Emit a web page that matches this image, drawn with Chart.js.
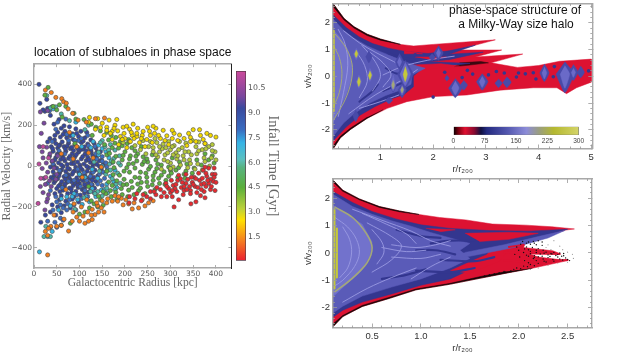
<!DOCTYPE html>
<html><head><meta charset="utf-8">
<script src="https://cdn.jsdelivr.net/npm/chart.js@4"></script>
<style>
html,body{margin:0;padding:0;background:#fff;width:628px;height:354px;overflow:hidden}
canvas{position:absolute;filter:blur(.35px)}
</style></head><body>
<canvas id="cLeft" width="236" height="260" style="left:0;top:40px"></canvas>
<canvas id="cBar" width="70" height="210" style="left:230px;top:60px"></canvas>
<canvas id="cTop" width="328" height="175" style="left:300px;top:0"></canvas>
<canvas id="cBot" width="328" height="179" style="left:300px;top:175px"></canvas>
<canvas id="cDens" width="150" height="30" style="left:440px;top:122px"></canvas>
<script>
/* ---------- subhalo scatter: flat lists radius,velocity, one per infall-time colour ---------- */
const subNavy=[11,400,13,307,28,326,24,268,30,282,20,275,36,248,55,228,44,205,60,185,78,192,66,197,92,182,52,165,68,170,85,158,103,170,116,165,
35,135,45,128,58,142,72,138,86,130,98,145,112,138,125,128,30,118,48,110,62,118,76,112,90,105,104,115,118,108,132,112,
38,95,52,88,66,95,80,85,95,92,108,82,122,90,136,88,146,70,42,72,56,65,70,72,84,60,98,68,112,58,126,66,140,52,
34,48,48,42,62,50,76,38,90,45,104,35,118,44,132,32,148,28,40,22,54,16,68,25,82,12,96,20,110,10,124,18,138,8,152,6,
36,-5,50,-10,64,-2,78,-15,92,-6,106,-18,120,-8,134,-20,148,-14,42,-28,56,-35,70,-26,84,-40,98,-30,112,-44,126,-34,140,-48,
38,-55,52,-62,66,-52,80,-68,94,-58,108,-72,122,-60,136,-75,44,-82,58,-90,72,-80,86,-96,100,-86,114,-100,128,-92,
50,-110,64,-118,78,-108,92,-124,106,-115,120,-128,46,-135,60,-145,74,-135,88,-150,102,-142,56,-165,70,-172,84,-162,98,-176,
40,-190,52,-200,66,-195,80,-205,36,-225,48,-240,60,-228,25,-240,15,-275,
46,150,64,155,80,148,94,160,108,122,57,104,73,98,87,76,101,78,115,74,129,50,59,33,73,8,87,28,101,5,115,27,129,-3,143,25,45,-45,61,-18,75,-42,89,-23,103,-48,117,-25,131,-55,
47,-72,61,-76,77,-55,91,-84,105,-64,119,-82,133,-108,67,-100,83,-130,97,-105,111,-132,57,-125,125,-112,
41,85,55,100,69,84,83,92,97,84,111,94,125,78,139,70,51,58,65,38,79,48,93,56,107,46,121,32,135,40,46,30,60,6,74,-10,88,10,102,-8,116,-2,130,12,144,-2,
44,2,58,-24,72,-48,86,-30,100,-40,114,-56,128,-70,55,-48,69,-64,83,-78,97,-72,111,-90,42,-62,54,-98,68,-88,82,-112,96,-94,110,-112];
const subBlue=[40,290,34,270,52,215,70,230,48,180,72,155,98,125,118,150,134,96,150,46,158,16,152,-30,146,-72,150,-95,132,-130,118,-150,104,-160,88,-190,72,-215,58,-255,46,-275,36,-300,
40,120,55,75,68,60,82,32,96,-15,110,-32,124,-50,140,-88,155,-60,160,-5,76,-75,62,-105,48,-150,36,-120,30,-85,42,10,56,-22,70,-45,88,-70,102,-100,116,-70,130,-30,
58,-190,74,-185,92,-215,42,-215,30,-270,50,-300,64,-265,
138,34,144,-40,126,-90,112,-120,94,-140,78,-165,64,-205,50,-175,150,24,136,60,120,100,104,135,90,125,76,125];
const subCyan=[42,280,12,-420,92,215,86,150,105,95,130,120,142,102,158,70,165,40,172,18,178,-20,168,-50,160,-88,148,-118,136,-150,122,-175,106,-188,88,-135,72,-150,60,-160,54,-215,40,-320,30,-345,142,55,128,-16,112,-55,100,-40,155,-115,175,-75,182,-105,150,0,
96,-165,80,-195,114,-150,128,-110,150,85,125,90,162,-20,140,-60,84,-150];
const subTeal=[28,345,48,290,36,285,60,255,78,222,120,200,112,178,150,125,168,105,178,78,188,50,176,38,166,10,190,5,184,-35,172,-62,190,-85,178,-115,162,-132,150,-146,140,-125,124,-125,110,-155,90,-212,26,-295,36,-345,22,-345,164,78,142,68,132,20,158,-40,144,-25,
168,-20,180,-88,160,-108,170,25,186,15,146,115,134,-135,156,95];
const subGreen=[31,385,24,347,42,292,56,300,50,275,62,240,88,258,110,228,126,205,136,190,92,230,146,172,160,165,170,150,180,140,190,120,205,110,215,90,228,60,240,45,250,20,268,30,280,5,296,-5,312,-20,330,-40,348,-35,
155,105,172,90,186,88,200,70,212,50,226,25,238,8,252,-15,266,-30,280,-45,296,-50,160,55,174,20,194,30,208,10,222,-10,234,-30,248,-55,262,-70,276,-85,288,-90,
160,-25,172,-95,188,-45,198,-65,210,-30,222,-55,236,-80,250,-100,266,-115,192,-110,204,-90,216,-105,230,-120,244,-135,158,-135,170,-150,182,-165,146,-165,132,-185,122,-205,112,-225,100,-235,80,-280,60,-290,152,-192,168,-120,140,-200,
304,40,320,20,336,10,352,-10,368,5,384,30,396,15,392,50,376,60,358,30,300,-22,316,-55,332,-60,176,-8,198,-25,214,-75,228,-88,128,150,70,292,90,110,120,-100,166,62,
164,128,178,112,194,100,208,130,222,75,236,95,248,35,260,55,272,10,286,-28,302,-35,318,-8,334,-25,196,52,210,35,224,48,242,22,256,-2,270,-12,180,48,164,-78,182,-72,196,-92,208,-118,220,-140,234,-108,248,-78,260,-92,274,-60,290,-70,180,-128,194,-140,206,-150,142,-148,126,-170,152,-125,174,-42,204,-8,218,12,232,-58,246,-35,262,-48];
const subOlive=[262,90,276,70,288,55,300,80,312,65,326,90,340,70,356,95,370,80,384,95,398,70,272,45,286,30,300,15,314,35,328,50,342,30,358,60,374,40,390,40,400,30,
256,120,270,115,284,108,296,120,308,100,320,120,334,112,348,125,362,118,376,110,392,105,306,-5,322,5,338,-8,354,-15,370,-20,386,0,280,-15,294,22,234,80,246,60,210,120,222,100,
268,55,282,85,294,65,306,55,318,80,332,70,346,55,362,75,378,85,392,75,262,70,276,95,290,90,304,95,316,50,330,30,344,12,360,10,376,22,300,-12,240,125,252,95,196,115,266,135];
const subYellow=[122,238,140,232,150,210,165,225,182,228,120,215,135,180,160,190,172,170,178,200,196,190,210,180,218,205,200,135,212,120,226,145,240,170,248,130,256,150,268,185,284,175,265,160,292,148,308,160,320,152,344,140,350,178,364,178,356,120,372,130,388,150,400,142,376,110,232,115,244,95,278,135,296,105,316,125,336,100,204,90,216,150,190,145,186,105,172,130,154,150,228,185,250,190,262,195,
146,188,168,160,184,172,198,160,214,165,226,160,238,150,254,170,274,150,288,125,304,135,330,135,344,120,366,150,204,195,220,135,194,130,160,175,176,185,260,115,236,135,340,160,380,160,304,175];
const subOrange=[25,372,38,360,48,336,61,330,65,315,71,308,75,280,85,258,97,225,115,215,135,232,155,235,30,-435,
25,-320,30,-340,37,-295,50,-295,60,-290,66,-260,76,-318,84,-270,94,-250,108,-245,112,-280,120,-270,128,-262,134,-238,142,-225,154,-225,118,-225,128,-212,140,-195,150,-170,160,-180,172,-172,184,-172,196,-190,208,-185,216,-210,230,-205,244,-195,252,-180,262,-170,178,-145,192,-158,104,-200,88,-185,70,-115,60,60,44,-240,130,40,148,-5,116,-165,78,165,94,95,32,-305,
138,-180,148,-205,162,-160,126,-240,100,-270,186,-150,202,-165,220,-180,238,-165,86,-225,106,-55,86,35,120,65];
const subRed=[209,-180,222,-160,236,-170,256,-160,268,-140,280,-150,292,-150,304,-150,308,-200,318,-165,328,-140,345,-185,356,-175,366,-145,376,-155,388,-115,398,-120,
286,-130,296,-110,306,-95,314,-125,324,-105,334,-85,344,-120,354,-100,364,-70,374,-125,384,-85,394,-75,290,-85,302,-70,316,-70,326,-80,338,-65,348,-80,360,-105,370,-60,380,-50,392,-40,400,-80,
384,-10,396,-10,372,-20,352,-55,342,-100,300,-130,312,-90,330,-120,358,-130,378,-100,398,-40,388,-65,368,-90,270,-105,256,-125,240,-140,226,-135,210,-150,
318,-45,334,-40,362,-35,376,-5,346,-55,390,-100,
278,-115,292,-100,322,-62,336,-115,350,-90,368,-115,382,-70,396,-55,310,-110,356,-62,378,-35,264,-125,248,-150,344,-135,304,-120,374,-85,330,-100];
const subPurple=[14,265,30,272,22,210,16,160,12,95,28,92,18,70,35,60,20,40,27,15,40,25,18,-12,30,-30,44,-10,22,-60,34,-72,48,-65,25,-90,38,-100,14,-100,20,-130,32,-140,28,-175,24,-215,30,-160,50,-40,52,50];
const subPink=[11,10,9,-183,20,95,26,-55,15,-60,32,40];

const subGroups=[subNavy,subBlue,subPurple,subPink,subCyan,subTeal,subGreen,subOlive,subYellow,subOrange,subRed];
const subColors=['#37479e','#3f6cc0','#7a48a0','#c04a9c','#38b4e0','#4fb8a8','#5cb040','#b4c83a','#f2d800','#f28020','#e62a30'];

/* ---------- colour bars ---------- */
const infallStops=[0.05,1.3,2.5,3.2,4.5,5.7,6.2,7.2,8,9.3,10,11.55];
const infallColors=['#ea1f30','#f58220','#ffe000','#bcd13a','#5aaf3c','#58b380','#5cc0c0','#36b4e6','#3a6cc0','#3a4a9e','#7a479e','#cc4a9c'];
const infallTicks=[1.5,3,4.5,6,7.5,9,10.5];
const densStops=[0,12,28,50,66,80,130,175,205,240,300];
const densColors=['#000000','#7a0010','#e01030','#8a0a30','#101040','#232a80','#5458b0','#8c8cd8','#9a9e80','#b4b830','#d4d468'];
const densTicks=[0,75,150,225,300];

/* ---------- tick values ---------- */
const leftXTicks=[0,50,100,150,200,250,300,350,400];
const leftYTicks=[-400,-200,0,200,400];
const leftYLabels=['\u2212400','\u2212200','0','200','400'];
const topXTicks=[1,2,3,4,5];
const topXMinor=[.2,.4,.6,.8,1.2,1.4,1.6,1.8,2.2,2.4,2.6,2.8,3.2,3.4,3.6,3.8,4.2,4.4,4.6,4.8];
const botXTicks=[.5,1,1.5,2,2.5];
const botXMinor=[.1,.2,.3,.4,.6,.7,.8,.9,1.1,1.2,1.3,1.4,1.6,1.7,1.8,1.9,2.1,2.2,2.3,2.4,2.6,2.7];
const vTicks=[-2,-1,0,1,2];
const vMinor=[-2.6,-2.4,-2.2,-1.8,-1.6,-1.4,-1.2,-.8,-.6,-.4,-.2,.2,.4,.6,.8,1.2,1.4,1.6,1.8,2.2,2.4,2.6];

/* ---------- top phase-space panel, outlines in r/r200, v/v200 ---------- */
const topRed=[.1,2.72,.31,2.16,.5,1.85,.75,1.57,1,1.39,1.38,1.19,1.63,1.13,2,1.19,3.18,1.36,2.45,.98,3.3,.98,2.8,.72,3.7,.83,3.1,.5,3.6,.33,4,.4,4.4,.56,5,.64,5,-.22,4.72,-.43,4.53,-.65,4.35,-.43,3.9,-.43,3.27,-.52,2.64,-.7,2.01,-.76,1.5,-.95,1.13,-1.2,.75,-1.57,.43,-1.99,.24,-2.3,.1,-2.72];
const topBlackUp=[.1,2.72,.31,2.16,.5,1.85,.75,1.57,1,1.39,1.38,1.19,1,1.35,.75,1.52,.5,1.8,.31,2.1,.1,2.62];
const topBlackLow=[1.05,-1.25,.75,-1.57,.43,-1.99,.24,-2.3,.1,-2.72,.1,-2.62,.24,-2.24,.43,-1.94,.75,-1.53];
const topBlackMid=[2.5,.5,2.9,.55,3.05,.5,2.7,.42,2.4,.36];
const topNavy=[.1,2.3,.35,1.82,.6,1.47,.85,1.22,1.15,1.05,1.5,.92,1.9,.85,2.3,.95,2.8,1.16,2.3,.82,2.95,.9,2.3,.62,1.9,.55,2.7,.48,1.8,.3,1.62,0,1.62,-.4,1.45,-.68,1.2,-.85,.9,-1.13,.62,-1.45,.35,-1.9,.1,-2.42];
const topPeri=[.1,2.15,.3,1.72,.5,1.42,.75,1.13,1,.92,1.25,.72,1.45,.55,1.7,.38,1.85,.3,1.6,.05,1.58,-.3,1.4,-.5,1.1,-.72,.8,-1,.5,-1.4,.3,-1.75,.1,-2.25];
const topPeriIn=[.1,1.75,.25,1.42,.38,1,.47,.4,.45,-.1,.35,-.7,.22,-1.2,.1,-1.75];
const topRedPatchA=[1.65,.72,2.25,.72,1.95,.62];
const topRedPatchB=[1.62,.42,2.15,.47,2.5,.38,2.05,.3,1.72,.2];
const topRedPatchC=[1.45,.95,1.8,.84,1.45,.84];
const topCaustics=[[.12,1.62,.3,1.2,.43,.7,.47,.2,.42,-.4,.3,-1,.12,-1.6],[.12,1.1,.22,.7,.27,.1,.22,-.6,.12,-1.1]];
const topYellow=[[.115,1.7,.115,-1.3]];
const topStreaks=[[.3,1.7,.6,1.25,.9,.9,1.25,.55,1.55,.2],[1.05,.05,1.4,.35,1.9,.6,2.4,.75],[.4,-1.4,.9,-.7,1.4,-.15,1.7,.25],[.6,-1.2,1,-.95,1.35,-.7],[.55,.9,.7,.4,.75,-.2,.6,-.8],[.8,.9,1.05,.5,1.2,.05,1.05,-.4],[.2,1.75,.33,1.2,.38,.4,.3,-.6,.2,-1.5],[.65,1.15,.9,.55,1,0,.85,-.55]];
const topDarkStreaks=[[1.15,.85,1.4,.7,1.65,.6],[1.1,.3,1.3,.1,1.5,.1],[1.05,-.55,1.3,-.35,1.55,-.1],[.6,-.95,.85,-.55,.95,-.3]];
/* subhalo spindles: r, v top, v middle, v bottom, half-width in r */
const topSpindleNavy=[[2.42,-.08,-.44,-.8,.13],[2.58,-.15,-.33,-.52,.07],[2.93,.1,-.2,-.52,.11],[3.24,-.1,-.25,-.42,.07],[3.4,-.02,-.22,-.42,.08],[4.11,.46,.13,-.2,.09],[4.5,.54,.08,-.62,.17],[4.66,.44,.15,-.16,.09],[4.8,.38,.15,-.06,.07],[2.1,1.14,.88,.6,.09],[1.98,.85,.72,.58,.06],[1.47,.6,.08,-.44,.15],[1.36,.85,.54,.25,.08],[.78,.95,.74,.5,.06],[.53,-1.25,-1.47,-1.7,.055],[1.24,-.03,-.32,-.6,.06],[1.41,-.25,-.5,-.8,.08],[1.16,-.78,-.9,-1.03,.07],[2.26,.04,-.07,-.18,.04]];
const topSpindlePeri=[[2.42,-.18,-.44,-.7,.07],[2.93,0,-.2,-.42,.055],[4.11,.34,.13,-.1,.045],[4.5,.4,.08,-.45,.09],[4.66,.3,.15,-.04,.04],[2.1,1.04,.88,.7,.04],[1.47,.52,.08,-.36,.1],[1.36,.72,.54,.36,.04],[1.41,-.34,-.5,-.7,.04],[.54,1.05,.84,.62,.05],[.59,.05,-.2,-.45,.05],[.8,.3,.05,-.2,.05],[1.24,.05,-.32,-.55,.05]];
const topSpindleYellow=[[.54,.98,.84,.7,.03],[.59,-.03,-.2,-.38,.03],[.8,.2,.05,-.12,.03],[1.47,.36,.08,-.2,.04]];
const topSpindleOlive=[[1.24,-.15,-.32,-.48,.028],[1.41,-.38,-.5,-.62,.025]];
const topNavyDots=[3.35,.12,3.2,.18,3.9,.13,4.3,.36,4.95,.2,2,-.78,1.66,.8,2.55,-.05,3.75,.09,3.58,-.03,2.75,.08,3.05,.05,3.62,.12,4.28,-.02,2.22,.15,2.65,.22,3.95,-.1];

/* ---------- bottom phase-space panel ---------- */
const botRed=[.1,2.67,.2,2.3,.37,1.98,.575,1.7,.78,1.54,.98,1.41,1.19,1.3,1.46,1.21,1.73,1.06,2.07,1.02,2.34,.96,2.57,.88,2.48,.84,2.2,.52,2.07,.38,2.05,.2,2.35,.08,2.42,-.02,2.1,-.02,2.2,-.15,2.5,-.28,2.14,-.56,1.87,-.74,1.6,-.93,1.29,-1.15,.95,-1.35,.68,-1.66,.4,-1.96,.2,-2.33,.1,-2.7];
const botBlackUp=[.1,2.67,.2,2.3,.37,1.98,.575,1.7,.78,1.54,.98,1.41,.78,1.51,.575,1.67,.37,1.95,.2,2.26,.1,2.6];
const botBlackLow=[2.14,-.56,1.87,-.74,1.6,-.93,1.29,-1.15,.95,-1.35,.68,-1.66,.4,-1.96,.2,-2.33,.1,-2.7,.1,-2.6,.2,-2.29,.4,-1.92,.68,-1.62,.95,-1.32,1.29,-1.12,1.6,-.87,1.87,-.68];
const botNavy=[.1,2.25,.3,1.85,.5,1.52,.75,1.24,1,1.03,1.3,.9,1.7,.82,2.1,.8,2.5,.87,2.2,.55,1.9,.3,1.7,.1,1.6,-.45,1.3,-.95,1,-1.18,.7,-1.5,.4,-1.8,.2,-2.1,.1,-2.35];
const botPeri=[.1,2.15,.3,1.7,.5,1.42,.7,1.18,.9,.98,1.1,.75,1.3,.55,1.5,.35,1.4,.1,1.5,-.2,1.3,-.55,1,-.95,.7,-1.25,.4,-1.58,.2,-1.95,.1,-2.2];
const botPeriIn=[.1,1.75,.25,1.4,.4,1.05,.5,.4,.48,-.1,.38,-.7,.22,-1.2,.1,-1.6];
const botLightTip=[1.05,-.3,1.5,-.12,1.95,.2,2.3,.55,2.47,.82,2.2,.6,1.85,.3,1.45,.02];
const botRedPatchA=[1.45,.72,1.9,.76,2.2,.72,1.9,.5,1.6,.42];
const botRedPatchB=[1.3,-.65,1.55,-.25,1.75,.05,1.9,.1,1.8,-.3,1.5,-.75];
const botRedPatchC=[1.05,.9,1.35,.85,1.2,.78];
const botCaustics=[[.12,1.68,.3,1.3,.44,.72,.5,.2,.45,-.35,.3,-.92,.12,-1.42]];
const botYellow=[[.115,1.6,.115,-1.3],[.14,.9,.14,-.9]];
const botStreaks=[[.12,1.3,.25,.95,.34,.5,.37,0,.32,-.5,.2,-1,.12,-1.2],[.2,.95,.27,.5,.29,0,.25,-.55,.17,-.9],[.45,1.1,.7,.6,.8,.25,.7,-.25,.5,-.7],[.3,1.6,.6,1.2,.9,.8,1.1,.45,1.3,.25],[.9,-.95,1.1,-.5,1.3,-.15],[.5,.85,.6,.4,.62,0,.55,-.4],[.7,.3,.95,.2,1.15,.3,1.3,.45],[.7,-.15,1,-.2,1.2,-.05],[.2,-1.8,.45,-1.3,.7,-.9,.95,-.55],[.4,1.45,.65,1.05,.85,.7,.95,.35],[.6,.2,.85,.05,1.05,.1]];
const botNavyStreaks=[[1.1,.35,1.3,.45,1.55,.45],[.95,.1,1.15,.1,1.35,-.05],[1.2,-.25,1.55,-.3,1.75,-.15],[.95,-.65,1.3,-.7,1.55,-.55],[.75,.85,1,.62,1.2,.55],[.6,-.95,.85,-.8,1.05,-.6]];
const botRedStreaks=[[1.85,.02,2.15,-.02,2.42,-.04],[1.85,-.28,2.15,-.32,2.5,-.26],[1.9,.22,2.05,.3]];
const botBlackDots=[2.1,.4,2.15,.42,2.2,.45,2.24,.4,2.12,.32,2.18,.3,2.24,.28,2.08,.22,2.14,.2,2.2,.16,2.1,.12,2.18,.1,2.28,.03,2.36,.02,2.42,.0,2.46,-.02,2.05,.02,2.12,-.03,2.22,-.04,2.3,-.07,2.38,-.09,2.46,-.1,2.1,-.12,2.2,-.14,2.3,-.17,2.4,-.15,2.48,-.18,2.15,-.2,2.25,-.22,2.35,-.24,2.45,-.26,2.52,-.28,2.12,-.42,2.2,-.38,2.28,-.33,2.05,-.48,1.95,-.6,1.85,-.68,1.75,-.76,2.02,-.58,2.09,-.5,2.16,-.47,1.98,.22,2.02,.32,2.0,.1,1.96,-.05,2.01,-.15,2.06,-.28,2.16,-.1,2.25,.1,2.33,-.02,2.44,-.12,
2.04,.42,2.08,.36,2.16,.36,2.06,.15,2.12,.06,2.18,.02,2.26,-.01,2.34,-.04,2.4,-.06,2.08,-.08,2.16,-.17,2.24,-.12,2.32,-.13,2.42,-.22,2.5,-.24,2.18,-.28,2.26,-.3,2.36,-.3,2.1,-.36,1.92,-.65,1.8,-.72,1.7,-.8,1.65,-.84,1.98,-.55];
const botGreyDots=[2.3,.3,2.36,.45,2.42,.25,2.33,.12,2.45,.12,2.5,.03,2.55,-.05,2.56,-.2,2.4,-.36,2.3,-.45,2.2,-.55,2.12,-.6,2.5,-.34,2.28,.2,2.22,.52,2.2,.62];

/* ---------- helpers that hand the lists to the library ---------- */
const xy=f=>{const o=[];for(let i=0;i<f.length;i+=2)o.push({x:f[i],y:f[i+1]});return o};
const poly=(f,c)=>({showLine:true,data:xy(f),fill:'shape',backgroundColor:c,borderColor:c,borderWidth:.5,pointRadius:0,tension:0});
const curve=(f,c,w,t=.35)=>({showLine:true,data:xy(f),fill:false,borderColor:c,borderWidth:w,pointRadius:0,tension:t,borderCapStyle:'round'});
const spindles=(list,c)=>list.map(s=>({...poly([s[0],s[1],s[0]+s[4],s[2],s[0],s[3],s[0]-s[4],s[2]],c),tension:.15}));
const dots=(f,c,r)=>({showLine:false,data:xy(f),pointRadius:r,pointBorderWidth:0,pointBackgroundColor:c});
const gray='#a8a8a8';
function axis(axisName,pos,min,max,ticks,len,opt={}){
  const isMain=!!opt.labels;
  return {axis:axisName,position:pos,type:'linear',min,max,display:true,weight:isMain?10:0,
    afterBuildTicks:s=>{s.ticks=ticks.map(v=>({value:v}))},
    afterFit:s=>{if(axisName==='x')s.height=opt.size||0;else s.width=opt.size||0;s.paddingLeft=s.paddingRight=s.paddingTop=s.paddingBottom=0},
    border:{display:true,color:opt.border||gray,width:opt.bw===undefined?1.4:opt.bw,z:1},
    grid:{drawOnChartArea:false,drawTicks:true,tickLength:-len,tickColor:opt.tick||'#999',tickWidth:.8,z:1},
    ticks:{display:isMain,autoSkip:false,maxRotation:0,minRotation:0,padding:len+(opt.gap||3),color:opt.color||'#444',font:opt.font,
      callback:opt.labels?(v=>opt.labels(v)):undefined},
    title:opt.title||{display:false}};
}
const base={responsive:false,animation:false,events:[],devicePixelRatio:1,plugins:{legend:{display:false},tooltip:{enabled:false}}};
function gradient(chart,axisId,stops,colors,horizontal){
  const s=chart.scales[axisId];if(!s)return colors[0];
  const a=s.getPixelForValue(stops[0]),b=s.getPixelForValue(stops[stops.length-1]);
  if(!isFinite(a)||!isFinite(b))return colors[0];
  const g=horizontal?chart.ctx.createLinearGradient(a,0,b,0):chart.ctx.createLinearGradient(0,a,0,b);
  stops.forEach((v,i)=>g.addColorStop((v-stops[0])/(stops[stops.length-1]-stops[0]),colors[i]));
  return g;
}

/* ---------- left scatter ---------- */
const serif='"Liberation Serif","DejaVu Serif",serif';
new Chart(document.getElementById('cLeft'),{type:'scatter',
  data:{datasets:subGroups.map((g,i)=>({data:xy(g),pointRadius:2.1,pointBorderWidth:.6,pointBorderColor:'#4a4a4a',pointBackgroundColor:subColors[i]})).reverse()},
  options:{...base,layout:{padding:{right:3}},
    plugins:{...base.plugins,title:{display:true,fullSize:false,text:'location of subhaloes in phase space',color:'#111',font:{family:'"Liberation Sans",Arial,sans-serif',size:12.2,weight:'normal',lineHeight:1.24},padding:{top:5,bottom:4}}},
    scales:{
      x:axis('x','bottom',0,434,leftXTicks,3,{size:32,labels:v=>String(v),gap:1.5,font:{family:'"DejaVu Sans"',size:7.5},color:'#555',title:{display:true,text:'Galactocentric Radius [kpc]',color:'#666',font:{family:serif,size:11.6},padding:{top:0,bottom:10}}}),
      y:axis('y','left',-499,499,leftYTicks,3,{size:34,labels:v=>leftYLabels[leftYTicks.indexOf(v)],gap:2,font:{family:'"DejaVu Sans"',size:7.5},color:'#555',title:{display:true,text:'Radial Velocity [km/s]',color:'#666',font:{family:serif,size:12},padding:{top:0,bottom:0}}}),
      x2:axis('x','top',0,434,leftXTicks,3),
      y2:axis('y','right',-499,499,leftYTicks,3,{border:'#222',bw:1})
    }}});

/* ---------- infall-time colour bar ---------- */
new Chart(document.getElementById('cBar'),{type:'bar',
  data:{labels:['t'],datasets:[{data:[[infallStops[0],infallStops[infallStops.length-1]]],barPercentage:1,categoryPercentage:1,borderSkipped:false,borderWidth:1,borderColor:'#5a3a4a',
    backgroundColor:c=>gradient(c.chart,'y',infallStops,infallColors,false)}]},
  options:{...base,layout:{padding:{left:6,top:11,bottom:9.3}},
    scales:{x:{display:false},
      y:{position:'right',min:.05,max:11.55,afterBuildTicks:s=>{s.ticks=infallTicks.map(v=>({value:v}))},afterFit:s=>{s.width=54;s.paddingTop=s.paddingBottom=0},
        border:{display:false},grid:{drawOnChartArea:false,drawTicks:false},
        ticks:{autoSkip:false,padding:2,color:'#555',font:{family:'"DejaVu Sans"',size:7.8},callback:v=>v.toFixed(1)},
        title:{display:true,text:'Infall Time [Gyr]',color:'#666',font:{family:serif,size:14.5},padding:{top:18,bottom:0}}}}}});

/* ---------- phase-space panels ---------- */
const panelFont={family:'"Liberation Sans",Arial,sans-serif',size:9.5};
const overlayText={id:'overlayText',afterDraw(c){const t=c.options.plugins.overlayText;if(!t)return;const x=c.ctx;x.save();x.fillStyle='#111';x.font='12px "Liberation Sans",Arial,sans-serif';x.textAlign='center';x.textBaseline='middle';t.lines.forEach(l=>x.fillText(l.text,l.x,l.y));x.restore()}};
function panelScales(xMax,xT,xM,xLab,yMin,yMax){
  const ti=(txt,pad)=>({display:true,text:txt,color:'#333',font:{family:panelFont.family,size:9.5},padding:pad});
  return {
    x:axis('x','bottom',.1,xMax,xT,4,{size:26.5,labels:xLab,gap:3,font:panelFont,color:'#333',title:ti('r/r\u2082\u2080\u2080',{top:0,bottom:0})}),
    y:axis('y','left',yMin,yMax,vTicks,4,{size:33,labels:v=>String(v),gap:3,font:panelFont,color:'#333',title:ti('v/v\u2082\u2080\u2080',{top:3,bottom:0})}),
    x2:axis('x','top',.1,xMax,xT,4),
    y2:axis('y','right',yMin,yMax,vTicks,4),
    x3:axis('x','bottom',.1,xMax,xM,2,{bw:0}),
    x4:axis('x','top',.1,xMax,xM,2,{bw:0}),
    y3:axis('y','left',yMin,yMax,vMinor,2,{bw:0}),
    y4:axis('y','right',yMin,yMax,vMinor,2,{bw:0})
  };
}
const RED='#dc1232',NAVY='#33368f',MID='#484aa8',PERI='#5a5bb8',LIGHT='#7272cc',PALE='#9a9ae2',OLIVE='#a4a878',YEL='#c4c83a',BLK='#140808';
new Chart(document.getElementById('cTop'),{type:'scatter',plugins:[overlayText],
  data:{datasets:[
    poly(topRed,RED),poly(topBlackUp,BLK),poly(topBlackLow,BLK),poly(topBlackMid,'#3a0810'),
    poly(topNavy,NAVY),poly(topRedPatchA,RED),poly(topRedPatchB,RED),poly(topRedPatchC,RED),
    poly(topPeri,PERI),poly(topPeriIn,LIGHT),
    ...topDarkStreaks.map(f=>curve(f,NAVY,2)),
    ...topStreaks.map(f=>curve(f,PALE,.9)),...topCaustics.map(f=>curve(f,OLIVE,1)),...topYellow.map(f=>curve(f,YEL,2,0)),
    dots(topNavyDots,NAVY,1.8),
    ...spindles(topSpindleNavy,MID),...spindles(topSpindlePeri,'#6a6ac8'),...spindles(topSpindleOlive,OLIVE),...spindles(topSpindleYellow,YEL)
  ].reverse()},
  options:{...base,layout:{padding:{right:35.7,top:1}},
    plugins:{...base.plugins,overlayText:{lines:[{text:'phase-space structure of',x:215,y:11},{text:'a Milky-Way size halo',x:216,y:24.5}]}},
    scales:panelScales(5.02,topXTicks,topXMinor,v=>String(v),-2.7,2.7)}});
new Chart(document.getElementById('cBot'),{type:'scatter',
  data:{datasets:[
    dots(botGreyDots,'#999',.6),
    poly(botRed,RED),poly(botBlackUp,BLK),poly(botBlackLow,BLK),
    poly(botNavy,NAVY),poly(botRedPatchA,RED),poly(botRedPatchB,RED),poly(botRedPatchC,RED),
    poly(botPeri,PERI),poly(botPeriIn,LIGHT),poly(botLightTip,PERI),
    ...botNavyStreaks.map(f=>curve(f,NAVY,2.2)),...botStreaks.map(f=>curve(f,PALE,.9)),...botRedStreaks.map(f=>curve(f,RED,2)),
    ...botCaustics.map(f=>curve(f,OLIVE,1.6)),...botYellow.map(f=>curve(f,YEL,2,0)),
    dots(botBlackDots,'#111',.7)
  ].reverse()},
  options:{...base,layout:{padding:{right:36,top:4}},scales:panelScales(2.75,botXTicks,botXMinor,v=>v.toFixed(1),-2.73,2.71)}});

/* ---------- density colour bar inside the top panel ---------- */
new Chart(document.getElementById('cDens'),{type:'bar',
  data:{labels:['d'],datasets:[{data:[[densStops[0],densStops[densStops.length-1]]],barPercentage:1,categoryPercentage:1,borderSkipped:false,borderWidth:.5,borderColor:'#444',
    backgroundColor:c=>gradient(c.chart,'x',densStops,densColors,true)}]},
  options:{...base,indexAxis:'y',layout:{padding:{left:13.3,right:11.3,top:4.7}},
    scales:{y:{display:false},
      x:{position:'bottom',min:0,max:300,afterBuildTicks:s=>{s.ticks=densTicks.map(v=>({value:v}))},afterFit:s=>{s.height=17;s.paddingLeft=s.paddingRight=0},
        border:{display:false},grid:{drawOnChartArea:false,drawTicks:false},
        ticks:{autoSkip:false,maxRotation:0,padding:2.5,color:'#444',font:{family:panelFont.family,size:6.6},callback:v=>String(v)}}}}});
</script>
</body></html>
